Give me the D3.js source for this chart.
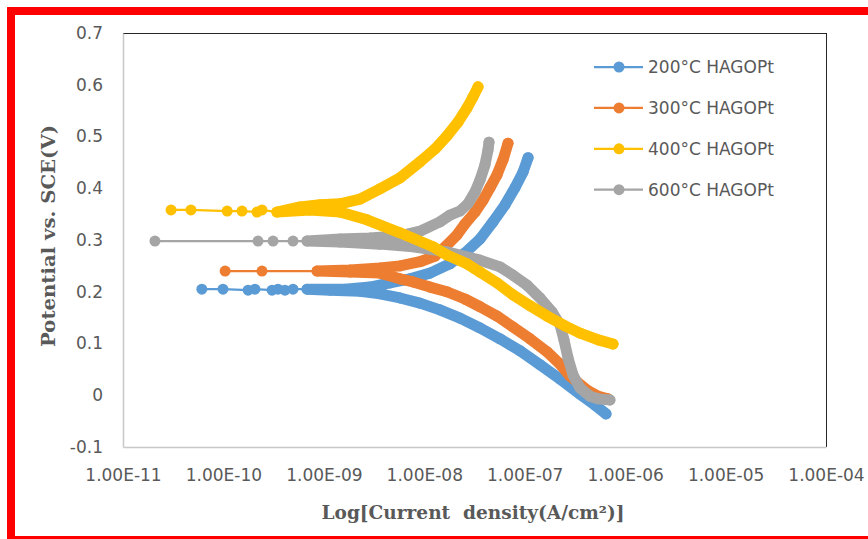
<!DOCTYPE html>
<html>
<head>
<meta charset="utf-8">
<script src="https://cdn.jsdelivr.net/npm/d3@7"></script>
<style>
  body { margin: 0; background: #fff; }
  svg { display: block; }
  text { font-family: "DejaVu Sans", sans-serif; fill: #595959; }
</style>
</head>
<body>
<div id="chart"></div>
<script>

var names = ["200°C HAGOPt", "300°C HAGOPt", "400°C HAGOPt", "600°C HAGOPt"]
var colors = ["#5B9BD5", "#ED7D31", "#FFC000", "#A5A5A5"]

var xTicks = [1e-11, 1e-10, 1e-9, 1e-8, 1e-7, 1e-6, 1e-5, 1e-4]
var yTicks = [-0.1, 0, 0.1, 0.2, 0.3, 0.4, 0.5, 0.6, 0.7]

// [current density (A/cm2), potential (V)]
// near = scattered points around Ecorr, cath / anod = branches going out from Ecorr
var near200 = [[6.1e-11, 0.205], [9.9e-11, 0.205], [1.76e-10, 0.203], [2.06e-10, 0.205], [3.05e-10, 0.203], [3.49e-10, 0.205], [4.10e-10, 0.203], [4.93e-10, 0.205]]
var cath200 = [[6.79e-10, 0.205], [1.15e-9, 0.203], [2.29e-9, 0.201], [3.62e-9, 0.196], [5.73e-9, 0.188], [9.06e-9, 0.178], [1.43e-8, 0.165], [2.27e-8, 0.149], [3.59e-8, 0.130], [5.67e-8, 0.109], [8.97e-8, 0.086], [1.42e-7, 0.059], [2.25e-7, 0.031], [3.56e-7, 0.002], [5.01e-7, -0.019], [6.45e-7, -0.036]]
var anod200 = [[6.79e-10, 0.205], [1.62e-9, 0.205], [2.88e-9, 0.209], [4.56e-9, 0.217], [7.21e-9, 0.225], [1.14e-8, 0.236], [1.80e-8, 0.254], [2.54e-8, 0.275], [3.59e-8, 0.302], [4.83e-8, 0.335], [6.37e-8, 0.368], [8.00e-8, 0.401], [9.61e-8, 0.431], [1.08e-7, 0.459]]

var near300 = [[1.04e-10, 0.240], [2.42e-10, 0.240]]
var cath300 = [[8.55e-10, 0.240], [1.82e-9, 0.238], [3.62e-9, 0.236], [5.73e-9, 0.225], [7.73e-9, 0.219], [1.14e-8, 0.209], [1.68e-8, 0.200], [2.54e-8, 0.186], [3.59e-8, 0.171], [5.30e-8, 0.153], [7.64e-8, 0.132], [1.13e-7, 0.109], [1.67e-7, 0.084], [2.25e-7, 0.060], [2.82e-7, 0.037], [4.17e-7, 0.010], [5.41e-7, -0.002], [6.74e-7, -0.007]]
var anod300 = [[8.55e-10, 0.240], [1.82e-9, 0.242], [3.62e-9, 0.246], [5.73e-9, 0.250], [9.06e-9, 0.258], [1.28e-8, 0.269], [1.68e-8, 0.290], [2.12e-8, 0.310], [2.54e-8, 0.331], [3.20e-8, 0.354], [3.85e-8, 0.377], [4.51e-8, 0.401], [5.30e-8, 0.426], [6.08e-8, 0.455], [6.82e-8, 0.487]]

var near400 = [[3.01e-11, 0.358], [4.75e-11, 0.358], [1.09e-10, 0.356], [1.53e-10, 0.356], [2.16e-10, 0.354], [2.42e-10, 0.358]]
var cath400 = [[3.41e-10, 0.354], [7.28e-10, 0.358], [1.45e-9, 0.354], [2.69e-9, 0.339], [5.73e-9, 0.314], [1.22e-8, 0.287], [1.68e-8, 0.271], [2.66e-8, 0.254], [3.59e-8, 0.238], [5.30e-8, 0.217], [7.64e-8, 0.194], [1.13e-7, 0.173], [1.67e-7, 0.153], [2.52e-7, 0.134], [3.56e-7, 0.120], [5.41e-7, 0.107], [7.57e-7, 0.099]]
var anod400 = [[3.41e-10, 0.354], [5.78e-10, 0.364], [9.16e-10, 0.368], [1.45e-9, 0.370], [2.29e-9, 0.379], [3.62e-9, 0.399], [5.73e-9, 0.420], [9.06e-9, 0.451], [1.28e-8, 0.476], [1.68e-8, 0.501], [2.17e-8, 0.528], [2.66e-8, 0.555], [3.05e-8, 0.576], [3.43e-8, 0.596]]

var near600 = [[2.08e-11, 0.298], [2.21e-10, 0.298], [3.12e-10, 0.298], [4.93e-10, 0.298]]
var cath600 = [[6.79e-10, 0.298], [1.45e-9, 0.296], [3.62e-9, 0.292], [7.73e-9, 0.287], [1.68e-8, 0.277], [3.59e-8, 0.261], [5.67e-8, 0.248], [7.64e-8, 0.232], [1.05e-7, 0.213], [1.42e-7, 0.188], [1.87e-7, 0.161], [2.25e-7, 0.136], [2.46e-7, 0.107], [2.70e-7, 0.072], [3.03e-7, 0.039], [3.56e-7, 0.014], [4.47e-7, -0.002], [5.41e-7, -0.007], [7.06e-7, -0.009]]
var anod600 = [[6.79e-10, 0.298], [1.45e-9, 0.302], [2.88e-9, 0.304], [5.73e-9, 0.308], [9.06e-9, 0.317], [1.43e-8, 0.335], [1.80e-8, 0.348], [2.27e-8, 0.356], [2.72e-8, 0.370], [3.20e-8, 0.393], [3.59e-8, 0.416], [4.02e-8, 0.445], [4.31e-8, 0.474], [4.41e-8, 0.489]]

var seriesList = [
  { name: names[0], color: colors[0], near: near200, cath: cath200, anod: anod200 },
  { name: names[1], color: colors[1], near: near300, cath: cath300, anod: anod300 },
  { name: names[2], color: colors[2], near: near400, cath: cath400, anod: anod400 },
  { name: names[3], color: colors[3], near: near600, cath: cath600, anod: anod600 }
]
// drawing order seen in the picture: yellow ends up on top
var drawOrder = [0, 1, 3, 2]

var width = 868, height = 539
var plot = { left: 123, right: 826, top: 33, bottom: 447 }

var svg = d3.select("#chart").append("svg")
  .attr("width", width)
  .attr("height", height)

// red frame
svg.append("rect").attr("x", 7).attr("y", 7).attr("width", width - 7).attr("height", 8).attr("fill", "#ff0000")
svg.append("rect").attr("x", 7).attr("y", 7).attr("width", 8).attr("height", height - 7).attr("fill", "#ff0000")
svg.append("rect").attr("x", 7).attr("y", 536).attr("width", width - 7).attr("height", 3).attr("fill", "#ff0000")

var x = d3.scaleLog().domain([1e-11, 1e-4]).range([plot.left, plot.right])
var y = d3.scaleLinear().domain([-0.1, 0.7]).range([plot.bottom, plot.top])

// plot box: dark top/right, light axis lines left/bottom
svg.append("line").attr("x1", plot.left).attr("x2", plot.right).attr("y1", plot.top + 0.5).attr("y2", plot.top + 0.5)
  .attr("stroke", "#262626").attr("stroke-width", 1)
svg.append("line").attr("x1", plot.right + 0.5).attr("x2", plot.right + 0.5).attr("y1", plot.top).attr("y2", plot.bottom)
  .attr("stroke", "#262626").attr("stroke-width", 1)

var yAxis = svg.append("g")
  .attr("transform", "translate(" + plot.left + ",0)")
  .call(d3.axisLeft(y).tickValues(yTicks).tickSize(0).tickPadding(20)
    .tickFormat(function(d){ return String(Math.round(d * 10) / 10) }))
yAxis.select(".domain").attr("stroke", "#c8c8c8").attr("stroke-width", 1.5)
yAxis.selectAll("text").style("font-size", "17px").attr("fill", "#595959")

var xAxis = svg.append("g")
  .attr("transform", "translate(0," + plot.bottom + ")")
  .call(d3.axisBottom(x).tickValues(xTicks).tickSize(0).tickPadding(22)
    .tickFormat(function(d){
      var e = Math.round(Math.log10(d))
      return "1.00E" + (e < 0 ? "-" : "+") + String(Math.abs(e)).padStart(2, "0")
    }))
xAxis.select(".domain").attr("stroke", "#c8c8c8").attr("stroke-width", 1.5)
xAxis.selectAll("text").style("font-size", "17px").attr("fill", "#595959")

// axis titles
svg.append("text")
  .attr("transform", "translate(55,236) rotate(-90)")
  .attr("text-anchor", "middle")
  .attr("textLength", 222)
  .attr("lengthAdjust", "spacingAndGlyphs")
  .style("font-family", "'DejaVu Serif', serif")
  .style("font-weight", "bold")
  .style("font-size", "19px")
  .text("Potential vs. SCE(V)")

svg.append("text")
  .attr("x", 473)
  .attr("y", 519)
  .attr("text-anchor", "middle")
  .attr("textLength", 303)
  .attr("lengthAdjust", "spacingAndGlyphs")
  .style("font-family", "'DejaVu Serif', serif")
  .style("font-weight", "bold")
  .style("font-size", "18px")
  .style("white-space", "pre")
  .text("Log[Current  density(A/cm²)]")

var line = d3.line()
  .x(function(d){ return x(d[0]) })
  .y(function(d){ return y(d[1]) })

var g = svg.append("g")

drawOrder.forEach(function(i){
  var s = seriesList[i]
  var sg = g.append("g")

  // thin connector through the scattered points near Ecorr
  sg.append("path")
    .attr("d", line(s.near.concat([s.cath[0]])))
    .attr("fill", "none")
    .attr("stroke", s.color)
    .attr("stroke-width", 2.25)

  // dense data: the markers overlap into a thick band
  var band = s.cath.slice().reverse().concat(s.anod.slice(1))
  sg.append("path")
    .attr("d", line(band))
    .attr("fill", "none")
    .attr("stroke", s.color)
    .attr("stroke-width", 11)
    .attr("stroke-linecap", "round")
    .attr("stroke-linejoin", "round")

  sg.selectAll("circle")
    .data(s.near.concat(band))
    .enter().append("circle")
    .attr("cx", function(d){ return x(d[0]) })
    .attr("cy", function(d){ return y(d[1]) })
    .attr("r", 5.5)
    .attr("fill", s.color)
})

// legend
var legend = svg.append("g")
seriesList.forEach(function(s, i){
  var ly = 67 + i * 40.9
  legend.append("line")
    .attr("x1", 594).attr("x2", 643)
    .attr("y1", ly).attr("y2", ly)
    .attr("stroke", s.color).attr("stroke-width", 2.25)
  legend.append("circle")
    .attr("cx", 619).attr("cy", ly).attr("r", 5.5)
    .attr("fill", s.color)
  legend.append("text")
    .attr("x", 648).attr("y", ly)
    .attr("dy", "0.36em")
    .style("font-size", "17px")
    .text(s.name)
})

</script>
</body>
</html>
